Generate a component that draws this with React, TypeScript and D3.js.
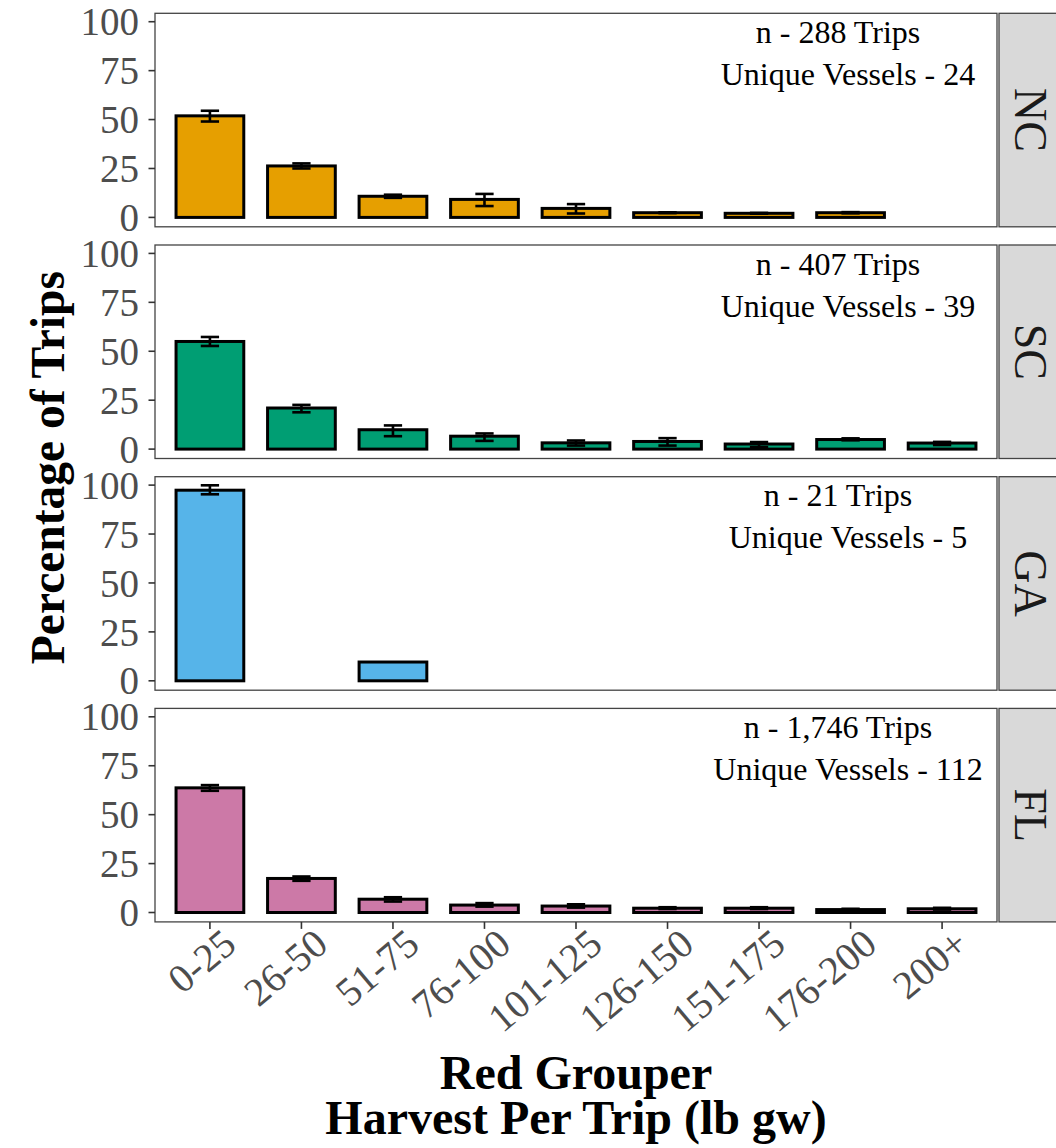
import React from "react";
import * as d3 from "d3";

const categories = ["0-25", "26-50", "51-75", "76-100", "101-125", "126-150", "151-175", "176-200", "200+"];
const regions = ["NC", "SC", "GA", "FL"];
const regionColors = ["#E69F00", "#009E73", "#56B4E9", "#CC79A7"];

// percentage of trips per bin (null = no bar)
const ncValues = [51.9, 26.3, 10.8, 9.2, 4.6, 2.4, 2.1, 2.4, null];
const scValues = [55.0, 21.0, 9.9, 6.6, 3.2, 3.9, 2.6, 4.9, 3.1];
const gaValues = [97.4, null, 9.6, null, null, null, null, null, null];
const flValues = [63.7, 17.4, 6.8, 3.8, 3.3, 2.2, 2.2, 1.5, 1.9];

// error bar lower / upper bounds
const ncLow = [49.0, 25.0, 10.0, 5.8, 2.0, 2.2, 1.9, 2.1, null];
const ncHigh = [54.5, 27.6, 11.6, 12.0, 6.8, 2.6, 2.3, 2.7, null];
const scLow = [52.7, 18.8, 6.6, 4.2, 1.8, 1.8, 1.0, 4.5, 2.1];
const scHigh = [57.3, 22.6, 12.1, 8.0, 4.4, 5.6, 3.6, 5.5, 3.7];
const gaLow = [95.3, null, null, null, null, null, null, null, null];
const gaHigh = [99.9, null, null, null, null, null, null, null, null];
const flLow = [62.2, 16.2, 5.6, 3.0, 2.5, 1.8, 1.8, 1.2, 1.5];
const flHigh = [65.1, 18.4, 7.8, 4.8, 4.2, 2.7, 2.7, 1.9, 2.4];

const tripCounts = ["288", "407", "21", "1,746"];
const vesselCounts = ["24", "39", "5", "112"];

const yTicks = [0, 25, 50, 75, 100];

const valuesByRegion = [ncValues, scValues, gaValues, flValues];
const lowByRegion = [ncLow, scLow, gaLow, flLow];
const highByRegion = [ncHigh, scHigh, gaHigh, flHigh];

const FONT = "'Liberation Serif', 'Times New Roman', serif";

const W = 1056;
const H = 1148;
const panelLeft = 155;
const panelRight = 997;
const stripLeft = 999;
const stripRight = 1058;
const firstTop = 13.3;
const panelStep = 231.7;
const panelH = 213.5;

export default function App() {
  const x = d3.scalePoint<string>().domain(categories).range([panelLeft, panelRight]).padding(0.6);
  const step = x.step();
  const barW = step * 0.74;
  const capW = step * 0.2;

  return (
    <svg width={W} height={H} style={{ position: "absolute", left: 0, top: 0, background: "#fff" }}>
      <rect x={0} y={0} width={W} height={H} fill="#fff" />
      {regions.map((reg, ri) => {
        const top = firstTop + ri * panelStep;
        const bottom = top + panelH;
        const y = d3.scaleLinear().domain([-4.8, 104.3]).range([bottom, top]);
        const vals = valuesByRegion[ri];
        const lows = lowByRegion[ri];
        const highs = highByRegion[ri];
        return (
          <g key={reg}>
            {categories.map((c, ci) => {
              const v = vals[ci];
              if (v == null) return null;
              const cx = x(c) as number;
              return (
                <rect
                  key={c}
                  x={cx - barW / 2}
                  y={y(v)}
                  width={barW}
                  height={y(0) - y(v)}
                  fill={regionColors[ri]}
                  stroke="#000"
                  strokeWidth={3}
                />
              );
            })}
            {categories.map((c, ci) => {
              const lo = lows[ci];
              const hi = highs[ci];
              if (lo == null || hi == null) return null;
              const cx = x(c) as number;
              return (
                <g key={"e" + c} stroke="#000" strokeWidth={2.6}>
                  <line x1={cx} x2={cx} y1={y(lo)} y2={y(hi)} />
                  <line x1={cx - capW / 2} x2={cx + capW / 2} y1={y(lo)} y2={y(lo)} />
                  <line x1={cx - capW / 2} x2={cx + capW / 2} y1={y(hi)} y2={y(hi)} />
                </g>
              );
            })}
            <rect x={panelLeft} y={top} width={panelRight - panelLeft} height={panelH} fill="none" stroke="#444" strokeWidth={1.3} />
            <rect x={stripLeft} y={top} width={stripRight - stripLeft} height={panelH} fill="#d9d9d9" stroke="#444" strokeWidth={1.3} />
            <text
              transform={`translate(${1015},${top + panelH / 2}) rotate(90)`}
              textAnchor="middle"
              fontFamily={FONT}
              fontSize={46}
              fill="#1a1a1a"
            >
              {reg}
            </text>
            {yTicks.map((t) => (
              <g key={"yt" + t}>
                <line x1={148.5} x2={panelLeft} y1={y(t)} y2={y(t)} stroke="#333" strokeWidth={1.6} />
                <text x={139} y={y(t)} dy="0.35em" textAnchor="end" fontFamily={FONT} fontSize={39} fill="#4d4d4d">
                  {t}
                </text>
              </g>
            ))}
            <text x={838} y={top + 29.7} textAnchor="middle" fontFamily={FONT} fontSize={32} fill="#000">
              {`n - ${tripCounts[ri]} Trips`}
            </text>
            <text x={848} y={top + 71.7} textAnchor="middle" fontFamily={FONT} fontSize={32} fill="#000">
              {`Unique Vessels - ${vesselCounts[ri]}`}
            </text>
            {ri === regions.length - 1 &&
              categories.map((c) => {
                const cx = x(c) as number;
                return (
                  <g key={"xt" + c}>
                    <line x1={cx} x2={cx} y1={bottom} y2={bottom + 7} stroke="#333" strokeWidth={1.6} />
                    <text
                      transform={`translate(${cx + 10},${bottom + 4}) rotate(-40)`}
                      textAnchor="end"
                      dy="0.72em"
                      fontFamily={FONT}
                      fontSize={40}
                      fill="#4d4d4d"
                    >
                      {c}
                    </text>
                  </g>
                );
              })}
          </g>
        );
      })}
      <text
        transform={`translate(64,${firstTop + (3 * panelStep + panelH) / 2}) rotate(-90)`}
        textAnchor="middle"
        fontFamily={FONT}
        fontSize={47.5}
        fontWeight="bold"
        fill="#000"
      >
        Percentage of Trips
      </text>
      <text x={(panelLeft + panelRight) / 2} y={1089} textAnchor="middle" fontFamily={FONT} fontSize={48} fontWeight="bold" fill="#000">
        Red Grouper
      </text>
      <text x={(panelLeft + panelRight) / 2} y={1134} textAnchor="middle" fontFamily={FONT} fontSize={48} fontWeight="bold" fill="#000">
        Harvest Per Trip (lb gw)
      </text>
    </svg>
  );
}
